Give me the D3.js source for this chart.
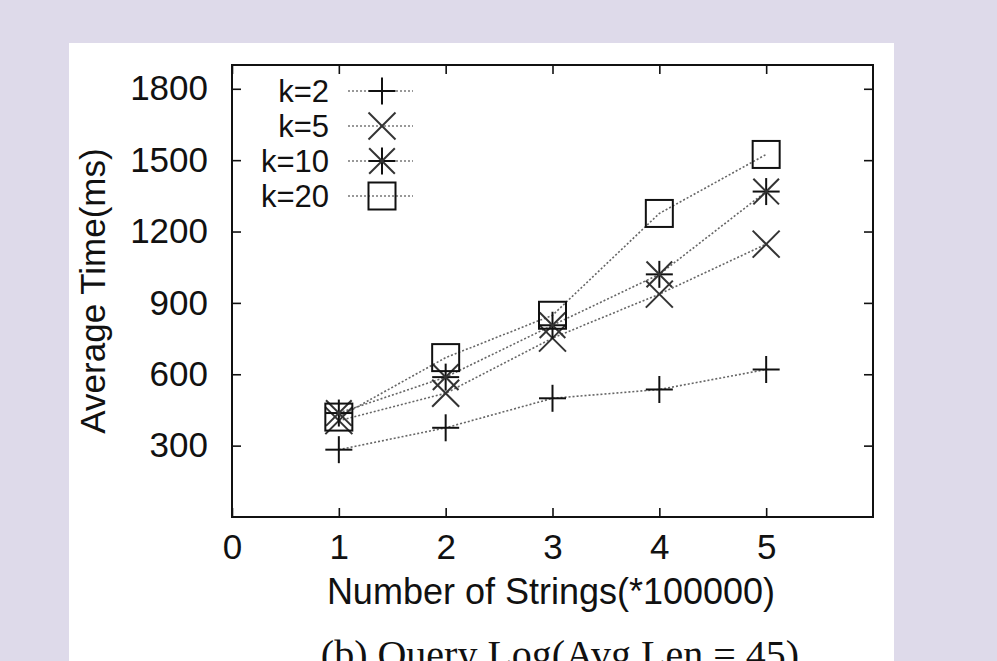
<!DOCTYPE html>
<html>
<head>
<meta charset="utf-8">
<script src="https://cdn.jsdelivr.net/npm/d3@7"></script>
<style>
  html, body { margin: 0; padding: 0; background: #dedaea; }
  svg { display: block; }
</style>
</head>
<body>
<svg id="chart" width="997" height="661"></svg>
<script>
// ---- data ----
const xValues = [1, 2, 3, 4, 5];
const seriesNames = ["k=2", "k=5", "k=10", "k=20"];
const k2  = [283, 375, 499, 536, 620];
const k5  = [405, 520, 752, 937, 1147];
const k10 = [437, 588, 806, 1020, 1368];
const k20 = [420, 670, 848, 1276, 1524];
const seriesValues = [k2, k5, k10, k20];
const markerTypes = ["plus", "cross", "star", "square"];
const xTicks = [0, 1, 2, 3, 4, 5];
const yTicks = [300, 600, 900, 1200, 1500, 1800];
const xLabel = "Number of Strings(*100000)";
const yLabel = "Average Time(ms)";
const caption = "(b) Query Log(Avg Len = 45)";

// ---- layout ----
const svg = d3.select("#chart");
const pLeft = 232, pRight = 873, pTop = 65, pBottom = 517;

svg.append("rect").attr("x", 69).attr("y", 43).attr("width", 825).attr("height", 640).attr("fill", "#ffffff");

const x = d3.scaleLinear().domain([0, 6]).range([pLeft, pRight]);
const y = d3.scaleLinear().domain([0, 1900]).range([pBottom, pTop]);

const tickFont = "'Liberation Sans', Arial, Helvetica, sans-serif";

// axes
const gx = svg.append("g").attr("transform", `translate(0,${pBottom})`)
  .call(d3.axisBottom(x).tickValues(xTicks).tickFormat(d3.format("d")).tickSizeInner(-9).tickSizeOuter(0).tickPadding(17));
const gxTop = svg.append("g").attr("transform", `translate(0,${pTop})`)
  .call(d3.axisTop(x).tickValues(xTicks).tickFormat("").tickSizeInner(-9).tickSizeOuter(0));
const gy = svg.append("g").attr("transform", `translate(${pLeft},0)`)
  .call(d3.axisLeft(y).tickValues(yTicks).tickFormat(d3.format("d")).tickSizeInner(-9).tickSizeOuter(0).tickPadding(24));
const gyRight = svg.append("g").attr("transform", `translate(${pRight},0)`)
  .call(d3.axisRight(y).tickValues(yTicks).tickFormat("").tickSizeInner(-9).tickSizeOuter(0));

[gx, gxTop, gy, gyRight].forEach(g => {
  g.select(".domain").remove();
  g.selectAll(".tick line").attr("stroke", "#111").attr("stroke-width", 1.6);
  g.selectAll(".tick text").attr("font-family", tickFont).attr("font-size", 35).attr("fill", "#111");
});

// frame
svg.append("rect").attr("x", pLeft).attr("y", pTop).attr("width", pRight - pLeft).attr("height", pBottom - pTop)
  .attr("fill", "none").attr("stroke", "#111").attr("stroke-width", 2);

// axis titles
svg.append("text").attr("x", 551).attr("y", 604).attr("text-anchor", "middle")
  .attr("font-family", tickFont).attr("font-size", 36).attr("fill", "#111").text(xLabel);
svg.append("text").attr("transform", "translate(105,291) rotate(-90)").attr("text-anchor", "middle")
  .attr("font-family", tickFont).attr("font-size", 35).attr("fill", "#111").text(yLabel);
svg.append("text").attr("x", 560).attr("y", 668).attr("text-anchor", "middle")
  .attr("font-family", "'Liberation Serif', 'Times New Roman', serif").attr("font-size", 40).attr("fill", "#111").text(caption);

// marker drawing
const S = 13.5;
function drawMarker(g, type, cx, cy) {
  const m = g.append("g").attr("transform", `translate(${cx},${cy})`)
    .attr("stroke", "#111").attr("stroke-width", 2).attr("fill", "none");
  if (type === "plus" || type === "star") {
    m.append("line").attr("x1", -S).attr("x2", S).attr("y1", 0).attr("y2", 0);
    m.append("line").attr("x1", 0).attr("x2", 0).attr("y1", -S).attr("y2", S);
  }
  if (type === "cross" || type === "star") {
    const d = type === "star" ? S * 0.95 : S;
    m.append("line").attr("x1", -d).attr("x2", d).attr("y1", -d).attr("y2", d).attr("stroke", "#333");
    m.append("line").attr("x1", -d).attr("x2", d).attr("y1", d).attr("y2", -d).attr("stroke", "#333");
  }
  if (type === "square") {
    m.append("rect").attr("x", -S).attr("y", -S).attr("width", 2 * S).attr("height", 2 * S);
  }
}

const lineGen = d3.line().x(d => x(d[0])).y(d => y(d[1]));
const plot = svg.append("g");
seriesValues.forEach((vals, i) => {
  const pts = xValues.map((xv, j) => [xv, vals[j]]);
  plot.append("path").datum(pts).attr("d", lineGen)
    .attr("fill", "none").attr("stroke", "#666").attr("stroke-width", 1.6).attr("stroke-dasharray", "2,2");
});
seriesValues.forEach((vals, i) => {
  xValues.forEach((xv, j) => drawMarker(plot, markerTypes[i], x(xv), y(vals[j])));
});

// legend
const legendY = [91, 126, 161, 196];
seriesNames.forEach((name, i) => {
  const ly = legendY[i];
  svg.append("text").attr("x", 329).attr("y", ly).attr("dy", "0.35em").attr("text-anchor", "end")
    .attr("font-family", tickFont).attr("font-size", 31).attr("fill", "#111").text(name);
  svg.append("line").attr("x1", 348).attr("x2", 413).attr("y1", ly).attr("y2", ly)
    .attr("stroke", "#777").attr("stroke-width", 1.6).attr("stroke-dasharray", "2,2");
  drawMarker(svg, markerTypes[i], 382, ly);
});
</script>
</body>
</html>
